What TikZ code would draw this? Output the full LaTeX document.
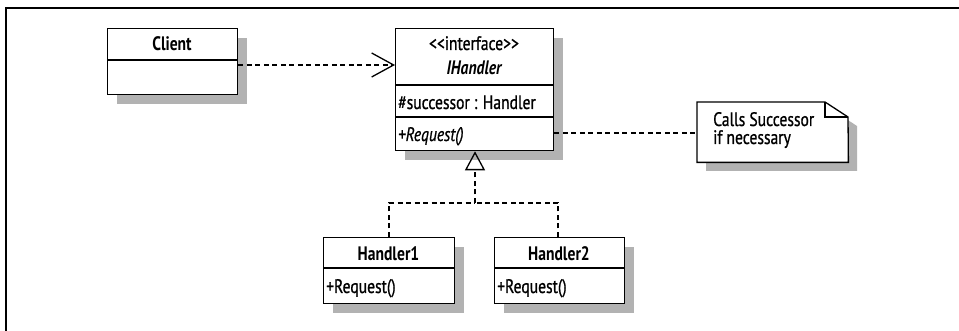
\documentclass[tikz,border=0pt]{standalone}
\usepackage{fontspec}
\setmainfont{PT Sans}[FakeStretch=0.8, Ligatures=NoCommon,
  UprightFeatures={FakeBold=0.8}, ItalicFeatures={FakeBold=0.8}]
\usetikzlibrary{arrows.meta,shadows}

\tikzset{
  umlbox/.style={draw, line width=1.3pt, fill=white, inner sep=0pt,
    anchor=north west,
    drop shadow={shadow xshift=9pt, shadow yshift=-9pt, fill=black!30, opacity=1}},
  boxtitle/.style={font=\fontsize{19.5}{21}\selectfont\bfseries, anchor=base, inner sep=0pt},
  boxtext/.style={font=\fontsize{19.5}{21}\selectfont, anchor=base west, inner sep=0pt},
  divider/.style={line width=1.1pt},
  depline/.style={line width=1.3pt, dash pattern=on 5pt off 3.5pt},
  frameline/.style={line width=2pt}
}

\begin{document}
\begin{tikzpicture}[x=1pt, y=-1pt]
  \useasboundingbox (0,0) rectangle (959,331);

  % page frame
  \draw[frameline] (5.5,331) -- (5.5,8.5) -- (959,8.5);

  % Client
  \node[umlbox, minimum width=130pt, minimum height=66pt] (client) at (107,28) {};
  \draw[divider] (107,60) -- (237,60);
  \node[boxtitle] (clientname) at (172,51) {Client};

  % IHandler interface
  \node[umlbox, minimum width=158pt, minimum height=122pt] (ihandler) at (395,28) {};
  \draw[divider] (395,85) -- (553,85);
  \draw[divider] (395,117) -- (553,117);
  \node[boxtitle, font=\fontsize{19.5}{21}\selectfont] (stereo) at (474,50) {{<}{<}interface{>}{>}};
  \node[boxtitle, font=\fontsize{19.5}{21}\selectfont\bfseries\itshape] (iname) at (474,75) {IHandler};
  \node[boxtext] (iattr) at (398,109) {\#successor : Handler};
  \node[boxtext, font=\fontsize{19.5}{21}\selectfont\itshape] (iop) at (398,141) {+Request()};

  % Handler1
  \node[umlbox, minimum width=131pt, minimum height=66pt] (h1) at (323,237) {};
  \draw[divider] (323,268) -- (454,268);
  \node[boxtitle] (h1name) at (388.5,261) {Handler1};
  \node[boxtext] (h1op) at (326,293) {+Request()};

  % Handler2
  \node[umlbox, minimum width=130pt, minimum height=66pt] (h2) at (494,237) {};
  \draw[divider] (494,268) -- (624,268);
  \node[boxtitle] (h2name) at (559,261) {Handler2};
  \node[boxtext] (h2op) at (497,293) {+Request()};

  % note with folded corner
  \fill[black!30] (706,111) -- (834,111) -- (857,126) -- (857,171) -- (706,171) -- cycle;
  \node[inner sep=0pt, minimum width=151pt, minimum height=60pt, anchor=north west] (note) at (697,102) {};
  \draw[line width=1.3pt, fill=white, line join=miter]
    (note.north west) -- (825,102) -- (848,117) -- (note.south east) -- (note.south west) -- cycle;
  \draw[line width=1.1pt] (825,102) -- (825,117) -- (848,117);
  \node[boxtext] (notetext1) at (713,126) {Calls Successor};
  \node[boxtext] (notetext2) at (713,144) {if necessary};

  % dependency Client -> IHandler
  \draw[depline, -{Straight Barb[length=22pt, width=24pt, line width=1.3pt]}]
    (client.east |- 0,65) -- (ihandler.west |- 0,65);

  % note attachment
  \draw[depline] (ihandler.east |- 0,133) -- (note.west |- 0,133);

  % realization of IHandler by the handlers
  \coordinate (join) at (475,203);
  \draw[depline] (h1.north -| 389,0) |- (join);
  \draw[depline] (h2.north -| 558,0) |- (join);
  \draw[depline, -{Triangle[open, length=19pt, width=20pt, line width=1.3pt]}]
    (join) -- (ihandler.south -| join);
\end{tikzpicture}
\end{document}
